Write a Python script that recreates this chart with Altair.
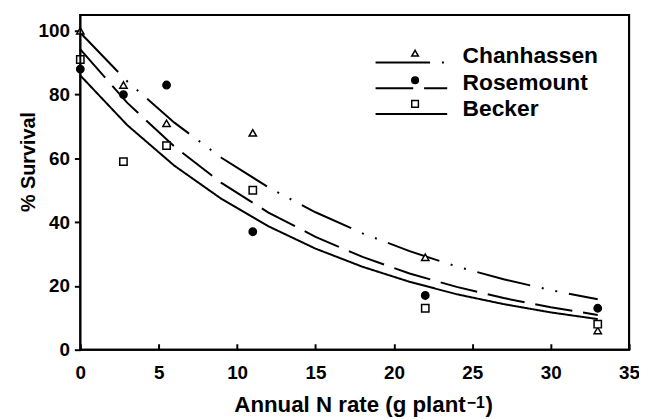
import altair as alt
import pandas as pd

# ---- data ----
sites = ["Chanhassen", "Rosemount", "Becker"]
n_rate = [0, 2.75, 5.5, 11, 22, 33]
chanhassen_obs = [100, 83, 71, 68, 29, 6]
rosemount_obs = [88, 80, 83, 37, 17, 13]
becker_obs = [91, 59, 64, 50, 13, 8]

curve_x = [0, 3, 6, 9, 12, 15, 18, 21, 24, 27, 30, 33]
chanhassen_fit = [99.4, 84.1, 71.2, 60.2, 50.9, 43.1, 36.5, 30.9, 26.1, 22.1, 18.7, 15.8]
rosemount_fit = [94.2, 77.4, 63.7, 52.3, 43.0, 35.4, 29.1, 23.9, 19.7, 16.2, 13.3, 10.9]
becker_fit = [86.0, 70.4, 57.7, 47.3, 38.7, 31.7, 26.0, 21.3, 17.4, 14.3, 11.7, 9.6]

x_ticks = [0, 5, 10, 15, 20, 25, 30, 35]
y_ticks = [0, 20, 40, 60, 80, 100]

x_title_main = "Annual N rate (g plant"
x_title_sup = "−1"
x_title_end = ")"
y_title = "% Survival"

# ---- tables ----
obs = pd.DataFrame({
    "site": [s for s in sites for _ in n_rate],
    "x": n_rate * 3,
    "y": chanhassen_obs + rosemount_obs + becker_obs,
})
fit = pd.DataFrame({
    "site": [s for s in sites for _ in curve_x],
    "x": curve_x * 3,
    "y": chanhassen_fit + rosemount_fit + becker_fit,
})

# legend layout (in axis units)
leg = pd.DataFrame({
    "site": sites,
    "x0": [18.83] * 3,
    "x1": [23.4] * 3,
    "xm": [21.35] * 3,
    "xt": [24.38] * 3,
    "yl": [90.1, 82.0, 73.9],
    "ym": [93.0, 84.5, 77.1],
    "yt": [92.0, 83.7, 75.5],
})
one = pd.DataFrame({"k": [0]})

FONT = "Liberation Sans"
W, H = 554, 338

xs = alt.Scale(domain=[0, 35], nice=False, zero=False)
ys = alt.Scale(domain=[0, 105], nice=False)
dash = alt.Scale(domain=sites, range=[[55, 12, 2, 12, 2, 12], [38, 11], [1, 0]])
shape = alt.Scale(domain=sites, range=["triangle-up", "circle", "square"])
fillc = alt.Scale(domain=sites, range=["white", "black", "white"])

x_axis = alt.Axis(
    title=None, values=x_ticks, domain=False, offset=-6, labelFlush=False,
    tickSize=6, tickWidth=2, tickColor="black", tickOpacity=1, labelPadding=14,
    labelFont=FONT, labelFontSize=19, labelFontWeight="bold", labelColor="black",
    grid=False,
)
y_axis = alt.Axis(
    title=y_title, values=y_ticks, domain=False, labelFlush=False,
    tickSize=6, tickWidth=2, tickColor="black", tickOpacity=1, labelPadding=5,
    labelFont=FONT, labelFontSize=19, labelFontWeight="bold", labelColor="black",
    titleFont=FONT, titleFontSize=20, titleFontWeight="bold", titleColor="black",
    titleAngle=270, titleAlign="center", titleBaseline="alphabetic",
    titleX=-46, titleY=148, grid=False,
)

lines = alt.Chart(fit).mark_line(color="black", strokeWidth=2).encode(
    x=alt.X("x:Q", scale=xs, axis=x_axis),
    y=alt.Y("y:Q", scale=ys, axis=y_axis),
    strokeDash=alt.StrokeDash("site:N", scale=dash, legend=None),
    detail="site:N",
)

points = alt.Chart(obs).mark_point(size=55, stroke="black", strokeWidth=1.5, opacity=1, filled=False).encode(
    x=alt.X("x:Q", scale=xs),
    y=alt.Y("y:Q", scale=ys),
    shape=alt.Shape("site:N", scale=shape, legend=None),
    fill=alt.Fill("site:N", scale=fillc, legend=None),
)

frame = alt.Chart(one).mark_rect(filled=False, color="black", stroke="black", strokeWidth=2, opacity=1, strokeOpacity=1).encode(
    x=alt.value(0), x2=alt.value(W), y=alt.value(0), y2=alt.value(H),
)

leg_lines = alt.Chart(leg).mark_rule(color="black", strokeWidth=2).encode(
    x=alt.X("x0:Q", scale=xs),
    x2="x1:Q",
    y=alt.Y("yl:Q", scale=ys),
    strokeDash=alt.StrokeDash("site:N", scale=dash, legend=None),
)
leg_pts = alt.Chart(leg).mark_point(size=45, stroke="black", strokeWidth=1.5, opacity=1, filled=False).encode(
    x=alt.X("xm:Q", scale=xs),
    y=alt.Y("ym:Q", scale=ys),
    shape=alt.Shape("site:N", scale=shape, legend=None),
    fill=alt.Fill("site:N", scale=fillc, legend=None),
)
leg_text = alt.Chart(leg).mark_text(
    align="left", baseline="middle", font=FONT, fontSize=23, fontWeight="bold", color="black"
).encode(
    x=alt.X("xt:Q", scale=xs),
    y=alt.Y("yt:Q", scale=ys),
    text="site:N",
)

# x-axis title with a real superscript
t_main = alt.Chart(one).mark_text(
    align="right", baseline="alphabetic", font=FONT, fontSize=22.5, fontWeight="bold", color="black"
).encode(x=alt.value(389), y=alt.value(401), text=alt.value(x_title_main))
t_sup = alt.Chart(one).mark_text(
    align="left", baseline="alphabetic", font=FONT, fontSize=16, fontWeight="bold", color="black"
).encode(x=alt.value(390), y=alt.value(397), text=alt.value(x_title_sup))
t_end = alt.Chart(one).mark_text(
    align="left", baseline="alphabetic", font=FONT, fontSize=22.5, fontWeight="bold", color="black"
).encode(x=alt.value(409), y=alt.value(401), text=alt.value(x_title_end))

chart = alt.layer(lines, points, frame, leg_lines, leg_pts, leg_text, t_main, t_sup, t_end).properties(
    width=W, height=H,
    autosize=alt.AutoSizeParams(type="none"),
    padding={"left": 73, "top": 5, "right": 10, "bottom": 68},
    background="white",
).configure_view(stroke="black", strokeWidth=2)

chart.save("out.html", embed_options={"renderer": "svg", "actions": False})
